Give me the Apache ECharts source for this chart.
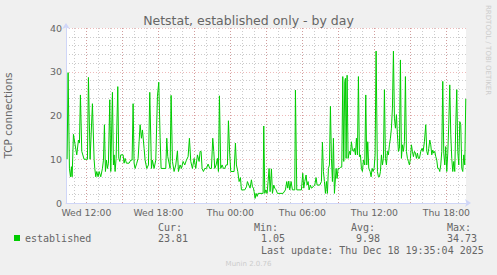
<!DOCTYPE html>
<html><head><meta charset="utf-8">
<script src="https://cdn.jsdelivr.net/npm/echarts@6/dist/echarts.min.js"></script>
<style>html,body{margin:0;padding:0;background:#F0F0F0}#c{width:497px;height:275px}</style>
</head><body><div id="c"></div>
<script>
// time in hours since Wed 00:00 ; values = TCP connections (established)
const times = [10.392,10.475,10.586,10.670,10.753,10.809,10.920,11.059,11.198,11.336,11.420,11.503,11.614,11.809,12.086,12.170,12.309,12.503,12.642,12.698,12.781,12.864,12.975,13.059,13.198,13.336,13.420,13.503,13.586,13.670,13.753,13.836,13.948,14.031,14.170,14.253,14.309,14.392,14.475,14.614,14.698,14.781,14.864,15.059,15.142,15.225,15.336,15.559,15.698,15.809,15.892,15.975,16.059,16.198,16.309,16.392,16.475,16.586,16.670,16.809,16.892,17.031,17.170,17.281,17.420,17.503,17.642,17.781,17.920,18.031,18.142,18.225,18.614,18.698,18.781,18.920,18.975,19.059,19.170,19.309,19.448,19.586,19.670,19.809,19.920,20.059,20.198,20.336,20.475,20.586,20.698,20.836,20.975,21.114,21.253,21.392,21.475,
21.558,21.641,21.752,21.864,22.002,22.141,22.280,22.419,22.530,22.614,22.697,22.808,22.919,23.002,23.086,23.197,23.308,23.419,23.530,23.641,23.752,23.836,23.947,24.030,24.308,24.419,24.502,24.614,24.725,24.836,24.919,25.197,25.336,25.419,25.530,25.641,25.752,25.836,25.919,25.975,26.058,26.141,26.225,26.308,26.725,26.780,26.864,26.947,27.058,27.141,27.225,27.308,27.419,27.502,27.614,27.697,27.808,27.919,28.391,28.586,28.697,28.780,28.864,28.947,29.058,29.169,29.364,29.419,29.530,29.919,30.030,30.114,30.197,30.308,30.391,30.475,30.558,30.669,30.752,30.891,31.030,31.141,31.225,31.447,31.586,31.669,31.752,31.836,31.919,32.002,32.086,32.169,32.252,32.336,32.419,32.502,32.586,32.669,
32.808,32.892,32.975,33.086,33.197,33.281,33.364,33.447,33.531,33.586,33.642,33.725,33.808,33.919,34.003,34.086,34.169,34.253,34.336,34.419,34.503,34.586,34.669,34.753,34.836,34.919,35.003,35.086,35.197,35.281,35.364,35.447,35.531,35.642,35.725,35.808,35.892,35.975,36.058,36.142,36.253,36.336,36.419,36.503,36.586,36.669,36.753,36.836,36.919,37.003,37.086,37.169,37.253,37.336,37.419,37.503,37.586,37.669,37.753,37.836,37.919,38.003,38.086,38.169,38.253,38.336,38.419,38.503,38.586,38.669,38.753,38.836,38.919,39.003,39.086,39.169,39.253,39.336,39.419,39.503,39.586,39.669,39.753,39.864,39.975,40.058,40.169,40.280,40.364,40.447,40.531,40.614,40.697,40.781,40.864,40.947,41.031,41.114,41.197,41.281,41.364,41.447,41.531,41.614,41.697,41.781,41.864,41.947,42.031,42.114,42.197,42.281,42.364,42.447,42.531,42.614,42.697,42.781,42.864,42.947,43.031,43.114,43.197,43.281,43.364,43.447,43.531,43.614];
const values = [10.0,29.8,7.9,6.0,8.3,6.0,15.7,13.3,11.0,14.4,13.7,24.7,11.8,10.0,10.0,28.7,10.0,22.7,10.0,7.9,6.0,7.2,6.0,7.2,6.0,7.9,9.8,17.9,7.2,9.8,7.9,9.1,23.6,7.2,25.3,8.7,11.0,7.2,10.2,26.6,10.2,9.5,11.0,11.0,9.1,10.2,9.1,9.1,9.8,9.8,22.7,9.1,7.9,9.1,10.2,14.0,17.9,14.8,16.7,12.5,9.8,7.9,8.7,25.3,7.9,9.8,7.9,9.8,24.4,27.6,15.0,7.9,7.9,14.8,10.6,8.7,7.9,24.6,9.5,7.2,8.7,11.9,7.2,8.7,7.9,9.5,8.7,9.8,10.6,14.8,9.5,7.9,10.2,7.9,11.0,9.5,11.8,
11.8,7.9,7.2,7.9,7.9,8.9,7.9,7.9,14.8,11.8,7.9,8.7,10.2,7.2,24.5,7.9,8.7,7.9,7.9,8.7,8.7,18.8,11.0,7.2,7.2,13.7,8.7,7.2,4.9,5.8,3.0,3.0,3.7,4.9,4.1,3.4,5.3,3.7,3.4,2.6,1.05,2.2,1.5,2.2,2.2,17.6,2.2,3.0,2.2,4.9,7.9,2.6,7.8,2.2,4.1,3.4,3.0,2.2,2.2,3.0,4.9,3.4,5.0,3.0,4.9,3.0,3.0,25.8,3.0,3.0,6.8,3.4,4.9,6.4,4.1,4.9,3.0,4.1,3.4,3.7,4.1,5.8,4.1,4.1,4.9,13.9,7.2,4.9,2.2,4.9,2.2,7.9,8.7,22.1,10.2,4.9,14.8,2.2,
7.9,5.6,7.9,7.9,8.2,8.2,28.9,9.5,27.8,28.5,10.2,29.2,10.2,11.8,11.0,14.0,12.1,11.8,12.5,11.0,14.8,11.0,28.9,10.6,11.0,7.9,7.2,9.8,8.7,24.7,8.7,14.0,7.9,7.2,6.0,7.9,7.2,7.9,11.0,34.73,7.2,6.0,6.0,7.2,11.0,8.7,10.2,25.9,10.2,8.7,11.8,11.0,13.3,14.8,17.1,21.7,34.7,19.4,17.1,20.2,15.6,11.8,12.5,32.7,10.2,13.3,11.8,14.0,28.9,11.8,10.2,9.5,8.7,10.2,13.3,11.8,10.6,11.8,11.4,10.2,11.4,10.2,10.2,11.8,12.5,11.8,14.0,17.9,11.8,11.0,12.5,14.4,13.3,11.0,12.1,11.4,11.8,10.6,9.8,7.9,7.9,7.2,8.7,11.8,27.8,11.4,8.7,12.9,7.2,11.4,17.9,27.0,15.6,10.2,7.2,9.5,7.2,17.9,25.9,11.8,8.7,18.6,17.9,7.9,7.2,11.0,8.7,23.81];

const xLabelHours = [12, 18, 24, 30, 36, 42];
const xLabelTexts = ['Wed 12:00', 'Wed 18:00', 'Thu 00:00', 'Thu 06:00', 'Thu 12:00', 'Thu 18:00'];
const seriesName = 'established';
const statHeaders = ['Cur:', 'Min:', 'Avg:', 'Max:'];
const statValues = ['23.81', '1.05', '9.98', '34.73'];
const lastUpdate = 'Last update: Thu Dec 18 19:35:04 2025';

const FONT = '"DejaVu Sans", sans-serif';
const MONO = '"DejaVu Sans Mono", monospace';
const TXT = '#666666';
const MGRID = 'rgba(215,90,90,0.42)';
const GRID = 'rgba(140,140,140,0.45)';
const AXIS = '#CFD6F8';

// plot geometry: 12 px per hour
const X0 = 66, PXH = 12, XMIN = 10.3, XMAX = 43.6333;
const TOP = 28, H = 175;
function gridFor(min, max) {
  return {left: X0 + (min - XMIN) * PXH, top: TOP, width: (max - min) * PXH, height: H, outerBoundsMode: 'none', containLabel: false};
}

const chart = echarts.init(document.getElementById('c'), null, {renderer: 'svg', width: 497, height: 275});
const statX = [158, 254, 351, 447];
const valX = [158, 261, 356, 447];
const graphics = [];
statHeaders.forEach((h, i) => graphics.push({type: 'text', left: statX[i], top: 222, style: {text: h, font: '10px ' + MONO, fill: TXT}}));
statValues.forEach((v, i) => graphics.push({type: 'text', left: valX[i], top: 233, style: {text: v, font: '10px ' + MONO, fill: TXT}}));
graphics.push({type: 'text', left: 261, top: 245, style: {text: lastUpdate, font: '10px ' + MONO, fill: TXT}});
graphics.push({type: 'text', left: 'center', top: 260, style: {text: 'Munin 2.0.76', font: '7px ' + FONT, fill: '#cccccc'}});
graphics.push({type: 'text', x: 488, y: 5, rotation: -Math.PI / 2, style: {text: 'RRDTOOL / TOBI OETIKER', font: '7px ' + FONT, fill: '#cccccc', align: 'left', verticalAlign: 'middle'}});

const hiddenY = gi => ({type: 'value', gridIndex: gi, min: 0, max: 40, show: false, splitLine: {show: false}});

const g0 = gridFor(XMIN, XMAX);
g0.show = true; g0.backgroundColor = '#FFFFFF'; g0.borderWidth = 0;

chart.setOption({
  animation: false,
  backgroundColor: '#F0F0F0',
  title: {text: 'Netstat, established only - by day', left: 'center', top: 9,
    textStyle: {fontFamily: FONT, fontSize: 12.5, fontWeight: 'normal', color: TXT}},
  legend: {data: [seriesName], left: 9, top: 228, icon: 'rect', itemWidth: 6, itemHeight: 6,
    textStyle: {fontFamily: MONO, fontSize: 10, color: TXT}},
  grid: [g0, gridFor(10, 44), gridFor(9, 45)],
  xAxis: [{
    type: 'value', gridIndex: 0, min: XMIN, max: XMAX,
    axisLine: {show: true, lineStyle: {color: AXIS, width: 1}, symbol: ['none', 'arrow'], symbolSize: [6, 6], symbolOffset: [0, 5]},
    axisTick: {show: false},
    axisLabel: {customValues: xLabelHours, formatter: v => xLabelTexts[xLabelHours.indexOf(Math.round(v))],
      color: TXT, fontFamily: FONT, fontSize: 9.3, margin: 5},
    splitLine: {show: false}
  }, {
    // hourly minor grid
    type: 'value', gridIndex: 1, min: 10, max: 44, interval: 1,
    axisLine: {show: false}, axisLabel: {show: false}, axisTick: {show: false},
    splitLine: {show: true, showMinLine: false, showMaxLine: false, lineStyle: {color: GRID, type: [1, 2], width: 1}}
  }, {
    // 3-hourly major grid
    type: 'value', gridIndex: 2, min: 9, max: 45, interval: 3,
    axisLine: {show: false}, axisLabel: {show: false}, axisTick: {show: false},
    splitLine: {show: true, showMinLine: false, showMaxLine: false, lineStyle: {color: MGRID, type: [1, 2], width: 1}}
  }],
  yAxis: [{
    type: 'value', gridIndex: 0, min: 0, max: 40, interval: 10,
    name: 'TCP connections', nameLocation: 'middle', nameGap: 53, nameRotate: 90,
    nameTextStyle: {color: TXT, fontFamily: FONT, fontSize: 10.5},
    axisLine: {show: true, lineStyle: {color: AXIS, width: 1}, symbol: ['none', 'arrow'], symbolSize: [6, 6], symbolOffset: [0, 5]},
    axisTick: {show: false},
    axisLabel: {color: TXT, fontFamily: FONT, fontSize: 9.5, margin: 4},
    splitLine: {show: true, lineStyle: {color: MGRID, type: [1, 2], width: 1}},
    minorTick: {show: false, splitNumber: 5},
    minorSplitLine: {show: true, lineStyle: {color: GRID, type: [1, 2], width: 1}}
  }, hiddenY(1), hiddenY(2)],
  series: [{
    name: seriesName, type: 'line', xAxisIndex: 0, yAxisIndex: 0, showSymbol: false, symbol: 'none',
    data: times.map((t, i) => [t, values[i]]),
    lineStyle: {color: '#00CC00', width: 1}, itemStyle: {color: '#00CC00'}, z: 5
  }],
  graphic: graphics
});
</script></body></html>
